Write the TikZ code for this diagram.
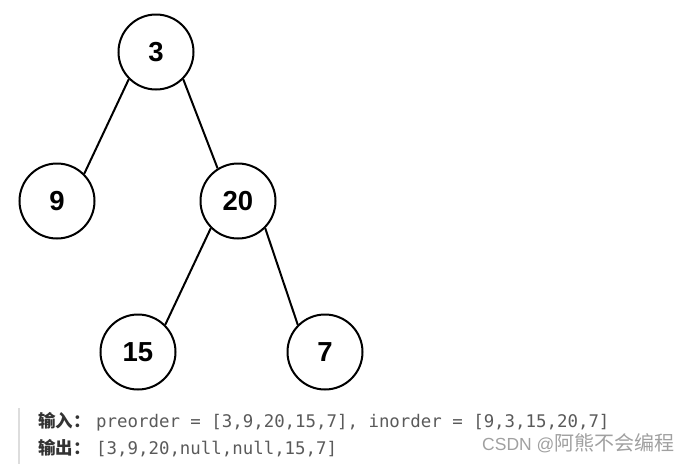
\documentclass[tikz,border=0pt]{standalone}
\usepackage{fontspec}
\setmainfont{Liberation Sans}
\newfontfamily\cjk{Noto Sans CJK SC}
\newfontfamily\monof{DejaVu Sans Mono}
\definecolor{codegray}{HTML}{5A5A5A}
\definecolor{labeldark}{HTML}{333333}
\definecolor{wmgray}{HTML}{A0A0A0}
\definecolor{bargray}{HTML}{DDDDDD}
\begin{document}
\begin{tikzpicture}[x=1pt,y=-1pt,
  tn/.style={circle,draw=black,line width=2pt,minimum size=75pt,inner sep=0pt,
    font=\fontsize{27.5}{27.5}\selectfont\bfseries},
  edge/.style={line width=2pt,draw=black},
  lab/.style={anchor=base west,inner sep=0pt,text=labeldark,
    font=\fontsize{17.5}{17.5}\selectfont\cjk\bfseries},
  code/.style={anchor=base west,inner sep=0pt,text=codegray,
    font=\fontsize{17.4}{17.4}\selectfont\monof},
  wm/.style={anchor=base west,inner sep=0pt,text=wmgray}]
\useasboundingbox (0,0) rectangle (691,464);
\node[tn] (n3) at (156,52) {3};
\node[tn] (n9) at (57,201) {9};
\node[tn] (n20) at (238,201) {20};
\node[tn] (n15) at (138,352) {15};
\node[tn] (n7) at (325,352) {7};
\draw[edge] (n3.south west) -- (n9.north east);
\draw[edge] (n3.south east) -- (n20.122);
\draw[edge] (n20.south west) -- (n15.north east);
\draw[edge] (n20.south east) -- (n7.north west);
\coordinate (bartop) at (19,408);
\coordinate (barbot) at (19,464);
\draw[bargray,line width=2pt] (bartop) -- (barbot);
\node[lab] (l1) at (38,427) {输入：};
\node[code] (c1) at (96,427) {preorder = [3,9,20,15,7], inorder = [9,3,15,20,7]};
\node[lab] (l2) at (38,454) {输出：};
\node[code] (c2) at (96,454) {[3,9,20,null,null,15,7]};
\node[wm] (w) at (482,450) {\fontsize{17.5}{17.5}\selectfont CSDN @\fontsize{20}{20}\selectfont\cjk 阿熊不会编程};
\end{tikzpicture}
\end{document}
